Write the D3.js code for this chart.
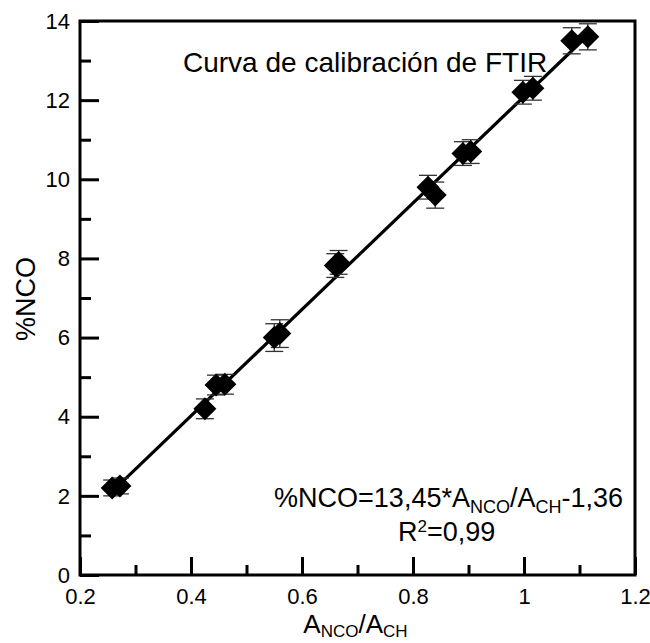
<!DOCTYPE html>
<html>
<head>
<meta charset="utf-8">
<script src="https://cdn.jsdelivr.net/npm/d3@7"></script>
<style>
  body { margin: 0; background: #fff; }
  text { font-family: "Liberation Sans", Arial, sans-serif; fill: #000; }
</style>
</head>
<body>
<div id="chart"></div>
<script>
// data
const ratio = [0.258, 0.272, 0.425, 0.445, 0.461, 0.55, 0.56, 0.66, 0.666, 0.827, 0.84, 0.89, 0.904, 0.998, 1.016, 1.086, 1.115];
const nco   = [2.2, 2.25, 4.2, 4.8, 4.82, 6.0, 6.1, 7.82, 7.9, 9.8, 9.6, 10.65, 10.7, 12.2, 12.3, 13.5, 13.6];
const err   = [0.2, 0.2, 0.25, 0.25, 0.25, 0.35, 0.35, 0.3, 0.3, 0.3, 0.33, 0.3, 0.3, 0.3, 0.3, 0.33, 0.33];
const fit = {slope: 13.45, intercept: -1.36, from: 0.262, to: 1.112};
const xMajor = [0.2, 0.4, 0.6, 0.8, 1.0, 1.2];
const xMinor = [0.3, 0.5, 0.7, 0.9, 1.1];
const yMajor = [0, 2, 4, 6, 8, 10, 12, 14];
const yMinor = [1, 3, 5, 7, 9, 11, 13];

const W = 650, H = 643;
const margin = {top: 21, right: 15, bottom: 68, left: 80};
const width = W - margin.left - margin.right,
    height = H - margin.top - margin.bottom;

const svg = d3.select("#chart").append("svg")
    .attr("width", W)
    .attr("height", H);
const g = svg.append("g")
    .attr("transform", "translate(" + margin.left + "," + margin.top + ")");

const x = d3.scaleLinear().domain([0.2, 1.2]).range([0, width]);
const y = d3.scaleLinear().domain([0, 14]).range([height, 0]);

const fmtX = d => d === 1 ? "1" : d3.format(".1f")(d);

// axes, ticks pointing inward
const xAxisMajor = g.append("g")
    .attr("transform", "translate(0," + height + ")")
    .call(d3.axisBottom(x).tickValues(xMajor).tickSize(-18).tickPadding(29).tickFormat(fmtX));
const xAxisMinor = g.append("g")
    .attr("transform", "translate(0," + height + ")")
    .call(d3.axisBottom(x).tickValues(xMinor).tickSize(-10).tickFormat(""));
const yAxisMajor = g.append("g")
    .call(d3.axisLeft(y).tickValues(yMajor).tickSize(-19).tickPadding(10));
const yAxisMinor = g.append("g")
    .call(d3.axisLeft(y).tickValues(yMinor).tickSize(-11).tickFormat(""));

[xAxisMajor, xAxisMinor, yAxisMajor, yAxisMinor].forEach(a => {
    a.select(".domain").remove();
    a.selectAll(".tick line").attr("stroke", "#000").attr("stroke-width", 3);
    a.selectAll(".tick text").style("font-size", "22px").attr("fill", "#000");
});
xAxisMajor.selectAll(".tick text").attr("dy", "0");
yAxisMajor.selectAll(".tick text").attr("dy", "0.33em");

// frame
g.append("rect")
    .attr("width", width)
    .attr("height", height)
    .attr("fill", "none")
    .attr("stroke", "#000")
    .attr("stroke-width", 3);

// fitted line
g.append("path")
    .attr("d", d3.line()([fit.from, fit.to].map(v => [x(v), y(fit.slope * v + fit.intercept)])))
    .attr("fill", "none")
    .attr("stroke", "#000")
    .attr("stroke-width", 3.2);

const pts = ratio.map((r, i) => ({x: r, y: nco[i], e: err[i]}));

// error bars
const eb = g.selectAll(".err")
    .data(pts)
    .enter()
    .append("g")
    .attr("class", "err")
    .attr("stroke", "#333")
    .attr("stroke-width", 1.3);
eb.append("line")
    .attr("x1", d => x(d.x)).attr("x2", d => x(d.x))
    .attr("y1", d => y(d.y - d.e)).attr("y2", d => y(d.y + d.e));
eb.append("line")
    .attr("x1", d => x(d.x) - 9).attr("x2", d => x(d.x) + 9)
    .attr("y1", d => y(d.y + d.e)).attr("y2", d => y(d.y + d.e));
eb.append("line")
    .attr("x1", d => x(d.x) - 9).attr("x2", d => x(d.x) + 9)
    .attr("y1", d => y(d.y - d.e)).attr("y2", d => y(d.y - d.e));

// diamond markers
const r = 11.5;
g.selectAll(".pt")
    .data(pts)
    .enter()
    .append("path")
    .attr("class", "pt")
    .attr("transform", d => "translate(" + x(d.x) + "," + y(d.y) + ")")
    .attr("d", "M0," + (-r) + "L" + r + ",0L0," + r + "L" + (-r) + ",0Z")
    .attr("fill", "#000");

// title inside the plot
svg.append("text")
    .attr("x", 183)
    .attr("y", 72)
    .style("font-size", "28px")
    .text("Curva de calibración de FTIR");

// equation
const eq = svg.append("text")
    .attr("x", 623)
    .attr("y", 507)
    .attr("text-anchor", "end")
    .style("font-size", "27px");
eq.append("tspan").text("%NCO=13,45*A");
eq.append("tspan").attr("dy", 6).style("font-size", "18px").text("NCO");
eq.append("tspan").attr("dy", -6).text("/A");
eq.append("tspan").attr("dy", 6).style("font-size", "18px").text("CH");
eq.append("tspan").attr("dy", -6).text("-1,36");

const r2 = svg.append("text")
    .attr("x", 398)
    .attr("y", 541)
    .style("font-size", "27px");
r2.append("tspan").text("R");
r2.append("tspan").attr("dy", -9).style("font-size", "17px").text("2");
r2.append("tspan").attr("dy", 9).text("=0,99");

// axis labels
const xl = svg.append("text")
    .attr("x", margin.left + x(0.7) - 2)
    .attr("y", 633)
    .attr("text-anchor", "middle")
    .style("font-size", "26px");
xl.append("tspan").text("A");
xl.append("tspan").attr("dy", 4).style("font-size", "17px").text("NCO");
xl.append("tspan").attr("dy", -4).text("/A");
xl.append("tspan").attr("dy", 4).style("font-size", "17px").text("CH");

svg.append("text")
    .attr("transform", "translate(35," + (margin.top + y(7) + 1) + ") rotate(-90)")
    .attr("text-anchor", "middle")
    .style("font-size", "27px")
    .text("%NCO");
</script>
</body>
</html>
